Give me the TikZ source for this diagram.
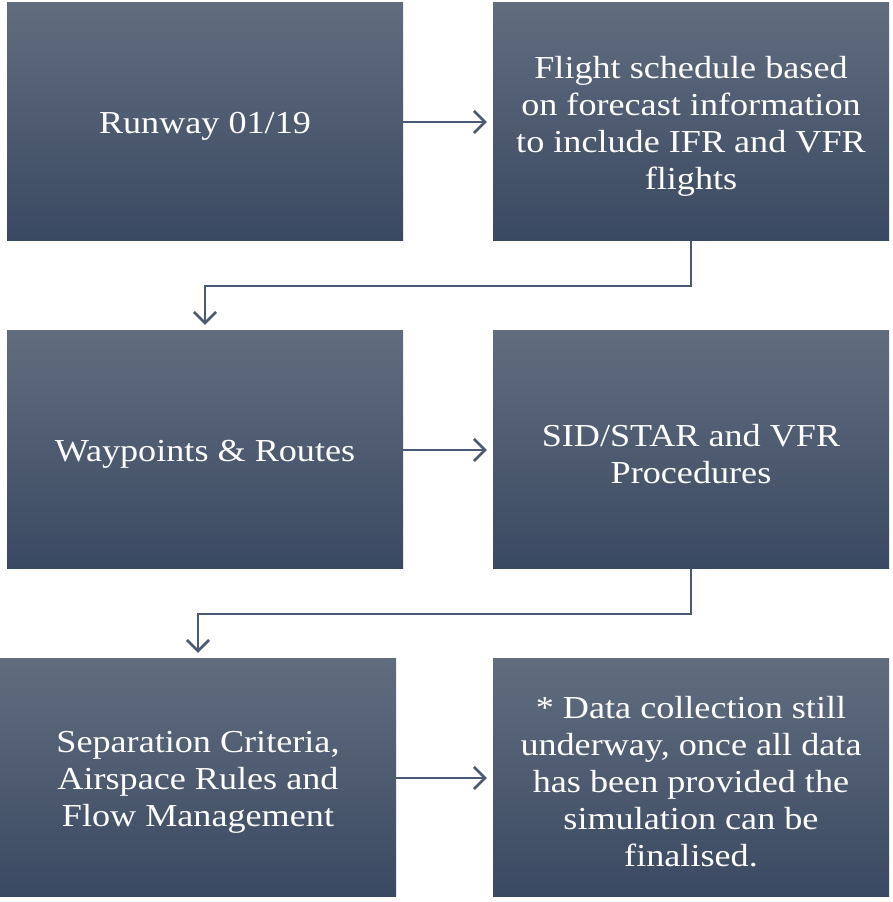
\documentclass[tikz,border=0pt]{standalone}
\usepackage{fontspec}
\setmainfont{Liberation Serif}[FakeStretch=1.13]
\usetikzlibrary{arrows.meta, calc}
\definecolor{boxtop}{RGB}{97,108,126}
\definecolor{boxbot}{RGB}{58,73,98}
\definecolor{linkblue}{RGB}{74,90,116}

\begin{document}
\begin{tikzpicture}[x=1pt, y=1pt,
  stage/.style={minimum width=396pt, minimum height=238pt, inner sep=0pt,
    top color=boxtop, bottom color=boxbot},
  stagetext/.style={text=white, align=center, font=\fontsize{32}{37}\selectfont},
  link/.style={draw=linkblue, line width=2.6pt, shorten >=6pt,
    -{Straight Barb[length=11pt, width=22pt, line width=2.6pt]}},
]
  \useasboundingbox[fill=white] (0,0) rectangle (892,902);

  % Row 1
  \node[stage] (runway) at (205,780) {};
  \node[stagetext] (runway-t) at ([yshift=-4pt]runway.center) {Runway 01/19};
  \node[stage] (schedule) at (691,780) {};
  \node[stagetext] (schedule-t) at ([yshift=-4pt]schedule.center) {Flight schedule based\\on forecast information\\to include IFR and VFR\\flights};

  % Row 2
  \node[stage] (waypoints) at (205,452) {};
  \node[stagetext] (waypoints-t) at ([yshift=-4pt]waypoints.center) {Waypoints \& Routes};
  \node[stage] (procs) at (691,452) {};
  \node[stagetext] (procs-t) at ([yshift=-4pt]procs.center) {SID/STAR and VFR\\Procedures};

  % Row 3
  \node[stage] (separation) at (198,124) {};
  \node[stagetext] (separation-t) at ([yshift=-4pt]separation.center) {Separation Criteria,\\Airspace Rules and\\Flow Management};
  \node[stage] (note) at (691,124) {};
  \node[stagetext] (note-t) at ([yshift=-4pt]note.center) {* Data collection still\\underway, once all data\\has been provided the\\simulation can be\\finalised.};

  % Links
  \draw[link] (runway) -- (schedule);
  \draw[link] (waypoints) -- (procs);
  \draw[link] (separation) -- (note);
  \draw[link] (schedule.south) -- ++(0,-45) -| (waypoints.north);
  \draw[link] (procs.south) -- ++(0,-45) -| (separation.north);
\end{tikzpicture}
\end{document}
